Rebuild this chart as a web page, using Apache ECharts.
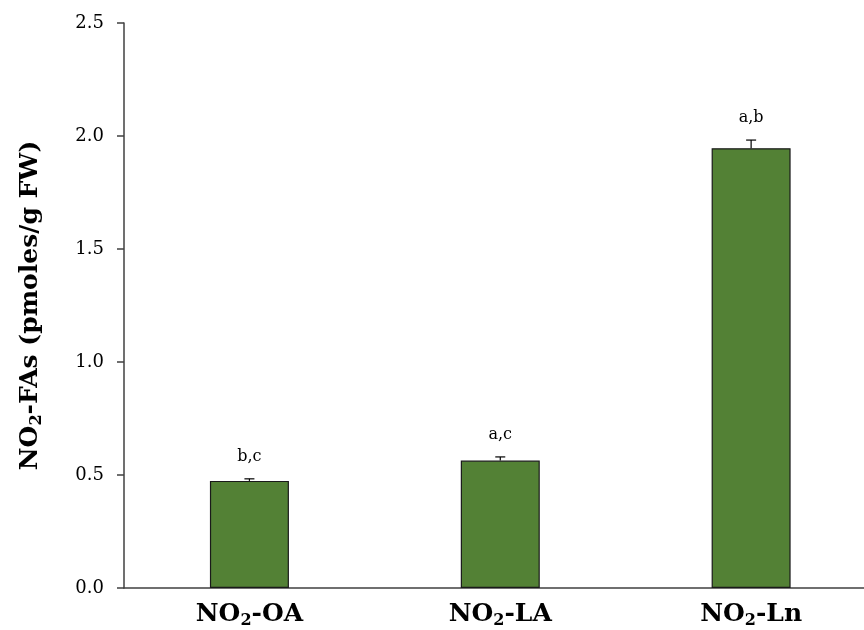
<!DOCTYPE html>
<html>
<head>
<meta charset="utf-8">
<script src="https://cdn.jsdelivr.net/npm/echarts@6/dist/echarts.min.js"></script>
<style>
  html, body { margin: 0; padding: 0; background: #ffffff; }
  #chart { width: 864px; height: 630px; }
</style>
</head>
<body>
<div id="chart"></div>
<script>
// Nitro-fatty acid content per species
const categories = ['OA', 'LA', 'Ln'];
const means = [0.474, 0.564, 1.946];
const errors = [0.009, 0.016, 0.036];
const letters = ['b,c', 'a,c', 'a,b'];
const yTicks = [0, 0.5, 1.0, 1.5, 2.0, 2.5];
// category slots along the x axis; the axis runs past the right edge of the canvas
const xSlots = [0, 1, 2];
const xRange = [-0.5, 2.45];

const FONT = '"DejaVu Serif", "Liberation Serif", serif';
const BAR_COLOR = '#538135';

const chart = echarts.init(document.getElementById('chart'), null, { renderer: 'canvas' });

function subRich(size) {
  return {
    main: { fontFamily: FONT, fontWeight: 'bold', fontSize: size, color: '#000', lineHeight: size + 4 },
    sub: { fontFamily: FONT, fontWeight: 'bold', fontSize: Math.round(size * 0.64), color: '#000',
           lineHeight: size + 4, padding: [Math.round(size * 0.5), 0, 0, 0] }
  };
}

chart.setOption({
  animation: false,
  grid: { left: 124, top: 23, right: 0, height: 565, containLabel: false, outerBoundsMode: 'none' },
  xAxis: {
    type: 'value',
    min: xRange[0],
    max: xRange[1],
    splitLine: { show: false },
    axisLine: { show: true, onZero: false, lineStyle: { color: '#404040', width: 1.5 } },
    axisTick: { show: false },
    axisLabel: {
      margin: 12,
      customValues: xSlots,
      formatter: v => '{main|NO}{sub|2}{main|-' + categories[Math.round(v)] + '}',
      rich: subRich(25)
    }
  },
  yAxis: {
    type: 'value',
    min: yTicks[0],
    max: yTicks[yTicks.length - 1],
    interval: 0.5,
    splitLine: { show: false },
    axisLine: { show: true, onZero: false, lineStyle: { color: '#404040', width: 1.5 } },
    axisTick: { show: true, inside: false, length: 7, lineStyle: { color: '#404040', width: 1.5 } },
    axisLabel: {
      margin: 20,
      fontFamily: FONT,
      fontSize: 18,
      color: '#000',
      formatter: v => v.toFixed(1)
    },
    name: '{main|NO}{sub|2}{main|-FAs (pmoles/g FW)}',
    nameLocation: 'middle',
    nameGap: 79,
    nameTextStyle: { rich: subRich(25) }
  },
  series: [
    {
      type: 'bar',
      data: means.map((m, i) => [xSlots[i], m]),
      barWidth: 79,
      itemStyle: { color: BAR_COLOR, borderColor: '#1a1a1a', borderWidth: 1.2 }
    },
    {
      type: 'custom',
      data: means.map((m, i) => [xSlots[i], m, errors[i]]),
      renderItem: function (params, api) {
        const x = api.value(0);
        const m = api.value(1);
        const e = api.value(2);
        const top = api.coord([x, m + e]);
        const base = api.coord([x, m]);
        const cap = 5;
        const style = { stroke: '#000', lineWidth: 1.2 };
        return {
          type: 'group',
          children: [
            { type: 'line', shape: { x1: base[0], y1: base[1], x2: top[0], y2: top[1] }, style: style },
            { type: 'line', shape: { x1: top[0] - cap, y1: top[1], x2: top[0] + cap, y2: top[1] }, style: style },
            {
              type: 'text',
              style: {
                text: letters[params.dataIndex],
                x: top[0],
                y: top[1] - 22,
                textAlign: 'center',
                textVerticalAlign: 'middle',
                font: '16px ' + FONT,
                fill: '#000'
              }
            }
          ]
        };
      },
      z: 5
    }
  ]
});
</script>
</body>
</html>
